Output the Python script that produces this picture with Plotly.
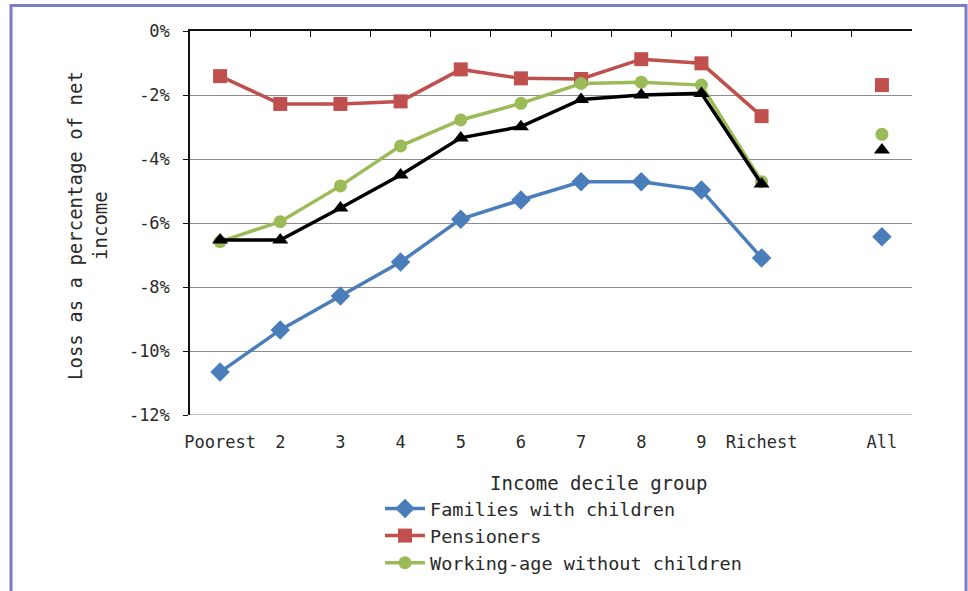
import plotly.graph_objects as go

categories = ["Poorest", "2", "3", "4", "5", "6", "7", "8", "9", "Richest", "", "All"]
families = [-10.66, -9.34, -8.28, -7.22, -5.88, -5.28, -4.71, -4.71, -4.97, -7.09, None, -6.43]
pensioners = [-1.41, -2.28, -2.28, -2.2, -1.2, -1.48, -1.5, -0.88, -1.01, -2.66, None, -1.69]
working_age = [-6.58, -5.96, -4.84, -3.59, -2.78, -2.26, -1.64, -1.6, -1.69, -4.71, None, -3.23]
all_households = [-6.53, -6.53, -5.53, -4.5, -3.34, -2.99, -2.14, -2.0, -1.95, -4.78, None, -3.72]
y_ticks = [-12, -10, -8, -6, -4, -2, 0]
y_tick_labels = ["-12%", "-10%", "-8%", "-6%", "-4%", "-2%", "0%"]

FONT = "DejaVu Sans Mono"
TXT = "#2a2a2a"
xs = list(range(len(categories)))

TOP, BOTTOM, LEFT, RIGHT = 31, 415, 190, 912
PH = BOTTOM - TOP
PW = RIGHT - LEFT

def px_x(p):
    return (p - LEFT) / PW

def px_y(p):
    return (BOTTOM - p) / PH

fig = go.Figure()

def add(name, vals, color, symbol, size, show=True):
    fig.add_trace(go.Scatter(
        x=xs, y=vals, name=name, mode="lines+markers",
        line=dict(color=color, width=3.5),
        marker=dict(color=color, symbol=symbol, size=size),
        connectgaps=False, showlegend=show))

add("Families with children", families, "#4A7EBB", "diamond", 15)
add("Pensioners", pensioners, "#C0504D", "square", 14)
add("Working-age without children", working_age, "#9BBB59", "circle", 13)
add("All", all_households, "#000000", "triangle-up", 14, show=False)

# invisible trace for top axis with boundary ticks
fig.add_trace(go.Scatter(x=[-0.5, 11.5], y=[0, 0], xaxis="x2", mode="lines",
                         line=dict(width=0), showlegend=False, hoverinfo="skip"))

fig.update_layout(
    width=968, height=591,
    margin=dict(l=LEFT, r=968 - RIGHT, t=TOP, b=591 - BOTTOM, autoexpand=False),
    paper_bgcolor="white", plot_bgcolor="white",
    font=dict(family=FONT, color=TXT),
    xaxis=dict(range=[-0.5, 11.5], tickvals=xs, ticktext=categories,
               showgrid=False, zeroline=False, showline=False, ticks="",
               ticklabelstandoff=15, automargin=False,
               tickfont=dict(size=17, family=FONT, color=TXT)),
    xaxis2=dict(range=[-0.5, 11.5], overlaying="x", side="top",
                tickvals=[i - 0.5 for i in range(13)], ticks="inside", ticklen=6,
                tickcolor="#111", showticklabels=False, showline=True,
                linecolor="#111", linewidth=1.5, showgrid=False, zeroline=False),
    yaxis=dict(range=[-12, 0], tickvals=y_ticks, ticktext=y_tick_labels,
               showgrid=True, gridcolor="#8c8c8c", gridwidth=1.2,
               zeroline=False, showline=True, linecolor="#111", linewidth=1.5,
               ticks="outside", ticklen=5, tickcolor="#111",
               ticklabelstandoff=10, automargin=False,
               tickfont=dict(size=17, family=FONT, color=TXT)),
    legend=dict(x=px_x(380), y=px_y(490), xanchor="left", yanchor="top",
                font=dict(size=18.5, family=FONT, color=TXT),
                bgcolor="rgba(0,0,0,0)", tracegroupgap=0, itemwidth=40),
    showlegend=True,
)

# gridline at -12% (bottom)
fig.add_shape(type="line", xref="paper", yref="y", x0=0, x1=1, y0=-12, y1=-12,
              line=dict(color="#8c8c8c", width=1.2), layer="below")

# outer frame
fig.add_shape(type="rect", xref="paper", yref="paper",
              x0=px_x(11), x1=px_x(966), y0=px_y(620), y1=px_y(5.5),
              line=dict(color="#7B7BC6", width=3), layer="below")

fig.add_annotation(text="Income decile group", xref="paper", yref="paper",
                   x=px_x(598), y=px_y(483), showarrow=False,
                   xanchor="center", yanchor="middle",
                   font=dict(size=19, family=FONT, color=TXT))
fig.add_annotation(text="Loss as a percentage of net<br>income", xref="paper", yref="paper",
                   x=px_x(88), y=px_y(225), showarrow=False, textangle=-90,
                   xanchor="center", yanchor="middle",
                   font=dict(size=19, family=FONT, color=TXT))

fig.write_html("out.html")
